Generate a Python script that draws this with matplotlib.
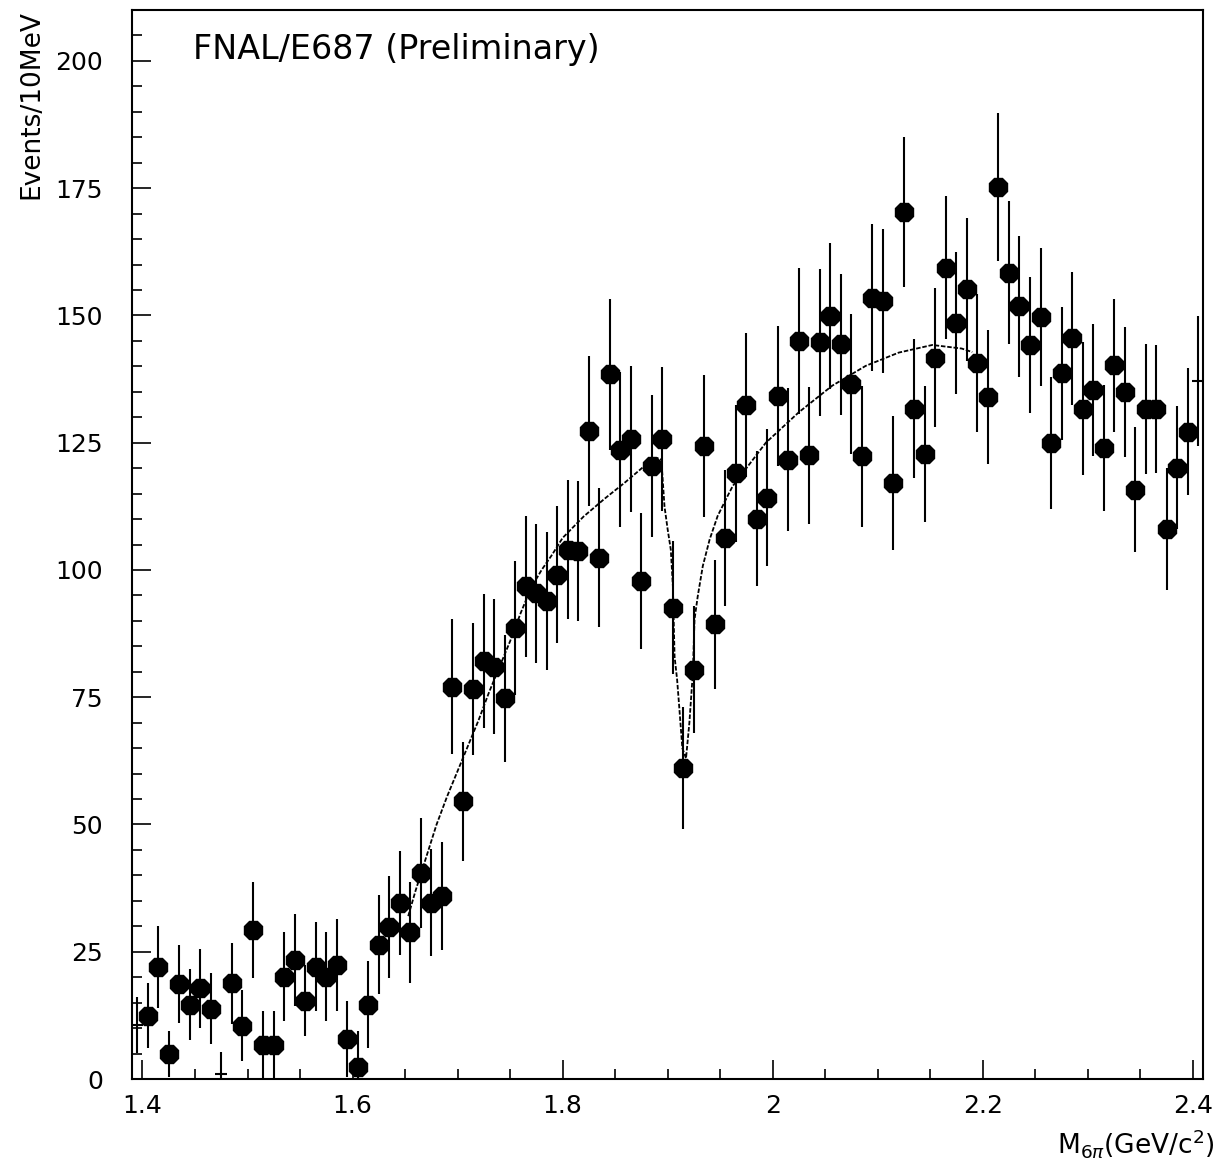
import matplotlib
matplotlib.use('Agg')
import matplotlib.pyplot as plt
import numpy as np
from matplotlib.ticker import MultipleLocator

# 10 MeV bins, centres 1.395 ... 2.405 GeV
mass = np.round(np.arange(1.395, 2.4051, 0.01), 3)

events = [10.6, 12.4, 22.0, 4.9, 18.7, 14.6, 17.8, 13.8, 1.0, 18.8,
          10.5, 29.3, 6.7, 6.7, 20.1, 23.4, 15.4, 22.1, 20.1, 22.4,
          7.8, 2.3, 14.6, 26.4, 29.9, 34.6, 28.8, 40.5, 34.6, 36.0,
          77.1, 54.6, 76.6, 82.1, 81.0, 74.8, 88.6, 96.8, 95.4, 93.9,
          99.1, 104.0, 103.7, 127.3, 102.4, 138.4, 123.6, 125.7, 97.8, 120.4,
          125.7, 92.6, 61.1, 80.4, 124.4, 89.3, 106.3, 119.0, 132.4, 110.1,
          114.2, 134.2, 121.7, 145.0, 122.5, 144.7, 149.9, 144.3, 136.5, 122.3,
          153.5, 152.8, 117.1, 170.3, 131.7, 122.8, 141.7, 159.4, 148.5, 155.1,
          140.7, 134.0, 175.2, 158.4, 151.8, 144.2, 149.7, 125.0, 138.6, 145.5,
          131.7, 135.4, 124.0, 140.2, 135.0, 115.8, 131.6, 131.6, 108.1, 120.1,
          127.2, 137.1]

errors = [5.5, 6.4, 8.0, 4.5, 7.7, 7.0, 7.7, 7.0, 4.4, 8.0,
          7.0, 9.5, 6.7, 6.7, 8.7, 9.0, 7.0, 8.8, 8.7, 9.0,
          7.5, 7.2, 8.5, 9.7, 10.0, 10.2, 9.9, 10.8, 10.5, 10.6,
          13.2, 11.7, 12.9, 13.2, 13.3, 12.5, 13.2, 13.8, 13.7, 13.5,
          13.5, 13.7, 13.7, 14.8, 13.7, 14.9, 15.2, 14.3, 13.3, 14.0,
          14.1, 13.0, 12.0, 12.5, 13.9, 12.7, 13.3, 13.5, 14.1, 13.3,
          13.4, 13.8, 14.0, 14.3, 13.5, 14.4, 14.3, 13.9, 13.7, 13.8,
          14.4, 14.2, 13.1, 14.7, 13.6, 13.3, 13.7, 14.0, 14.0, 14.0,
          13.6, 13.2, 14.5, 14.0, 13.8, 13.3, 13.5, 13.0, 13.0, 13.0,
          13.0, 13.0, 12.4, 13.0, 12.8, 12.3, 12.7, 12.5, 12.0, 12.1,
          12.5, 12.8]

# bins drawn without a marker
no_marker = [1.395, 1.475, 2.405]

# fit curve
fit_x = [1.653, 1.66, 1.67, 1.68, 1.69, 1.70, 1.71, 1.72, 1.73, 1.74,
         1.75, 1.76, 1.77, 1.78, 1.79, 1.80, 1.82, 1.84, 1.86, 1.88,
         1.89, 1.894, 1.897, 1.900, 1.903, 1.905, 1.9066, 1.909, 1.911, 1.914,
         1.9175, 1.9207, 1.924, 1.9256, 1.9287, 1.9335, 1.94, 1.9476, 1.957, 1.962,
         1.9935, 2.025, 2.0567, 2.0886, 2.12, 2.152, 2.18, 2.19]
fit_y = [32.0, 37.0, 43.5, 50.0, 55.5, 60.5, 65.5, 70.5, 76.0, 81.0,
         86.0, 91.5, 96.5, 100.0, 103.0, 106.3, 110.5, 114.0, 117.3, 120.8,
         122.0, 121.7, 112.5, 108.0, 104.0, 96.8, 83.0, 78.5, 73.2, 65.0,
         63.0, 70.0, 79.8, 90.3, 94.9, 100.8, 106.0, 110.6, 114.5, 116.5,
         125.0, 131.0, 136.2, 140.1, 142.7, 144.2, 143.5, 142.8]

plt.rcParams['font.family'] = 'DejaVu Sans'
plt.rcParams['font.size'] = 18

x = np.array(mass)
y = np.array(events)
e = np.array(errors)
bare = np.isin(x, no_marker)

fig = plt.figure(figsize=(12.22, 11.65), dpi=100)
ax = fig.add_axes([0.108, 0.0738, 0.8767, 0.9176])

ax.errorbar(x[~bare], y[~bare], yerr=e[~bare], fmt='8', color='black',
            ms=14.5, elinewidth=1.5, capsize=0)
ax.errorbar(x[bare], y[bare], yerr=e[bare], fmt='_', color='black',
            ms=8, mew=1.5, elinewidth=1.5, capsize=0)
ax.plot(fit_x, fit_y, color='black', lw=1.3, ls=(0, (2.5, 1)))

ax.set_xlim(1.39, 2.41)
ax.set_ylim(0, 210)
ax.xaxis.set_major_locator(MultipleLocator(0.2))
ax.xaxis.set_minor_locator(MultipleLocator(0.05))
ax.yaxis.set_major_locator(MultipleLocator(25))
ax.yaxis.set_minor_locator(MultipleLocator(5))
ax.set_xticks([1.4, 1.6, 1.8, 2.0, 2.2, 2.4])
ax.set_xticklabels(['1.4', '1.6', '1.8', '2', '2.2', '2.4'])
ax.tick_params(which='both', direction='in', top=False, right=False, width=1.2)
ax.tick_params(which='major', length=14)
ax.tick_params(which='minor', length=7)
ax.tick_params(axis='y', pad=21)
ax.tick_params(axis='x', pad=11)
for s in ax.spines.values():
    s.set_linewidth(1.5)

ax.text(0.057, 0.9626, 'FNAL/E687 (Preliminary)', transform=ax.transAxes,
        fontsize=24, va='center', ha='left')
fig.text(31 / 1222, 1 - 10 / 1165, 'Events/10MeV', rotation=90,
         ha='center', va='top', fontsize=19)
fig.text(1215 / 1222, 1 - 1160 / 1165, r'M$_{6\pi}$(GeV/c$^{2}$)',
         ha='right', va='bottom', fontsize=19)

fig.savefig('out.png', dpi=100)
